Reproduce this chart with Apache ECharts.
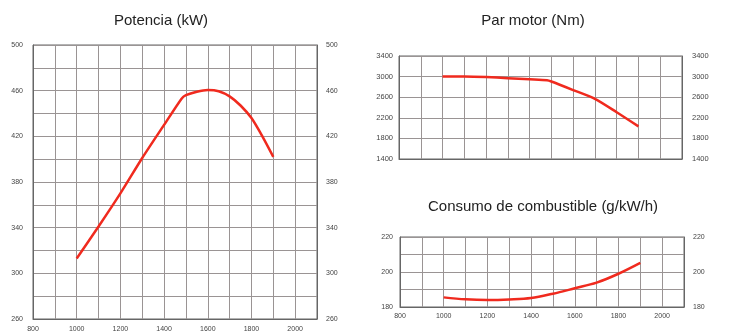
<!DOCTYPE html>
<html>
<head>
<meta charset="utf-8">
<script src="https://cdn.jsdelivr.net/npm/echarts@6/dist/echarts.min.js"></script>
<style>
html,body{margin:0;padding:0;background:#fff;}
#c{width:741px;height:336px;}
</style>
</head>
<body>
<div id="c"></div>
<script>
// ---- data ----
const titles = ['Potencia (kW)', 'Par motor (Nm)', 'Consumo de combustible (g/kW/h)'];
const rpmRange = [800, 2100];
const powerRpm  = [1000, 1100, 1200, 1300, 1400, 1480, 1500, 1550, 1600, 1650, 1700, 1750, 1800, 1850, 1900];
const powerKW   = [313, 341, 370, 401, 430, 453, 456, 459, 460.5, 459.5, 455, 447, 436, 420, 402];
const torqueRpm = [1000, 1100, 1200, 1300, 1400, 1480, 1500, 1600, 1700, 1800, 1900];
const torqueNm  = [3000, 3000, 2990, 2970, 2948, 2930, 2905, 2739, 2568, 2308, 2033];
const fuelRpm   = [1000, 1100, 1200, 1300, 1400, 1500, 1600, 1700, 1800, 1900];
const fuelGkWh  = [185.5, 184.4, 184.0, 184.3, 185.1, 187.6, 190.7, 193.9, 199.0, 205.2];
const powerAxis  = {min: 260, max: 500, step: 20, labelStep: 40};
const torqueAxis = {min: 1400, max: 3400, step: 200, labelStep: 400};
const fuelAxis   = {min: 180, max: 220, step: 10, labelStep: 20};

const zip = (xs, ys) => xs.map((x, i) => [x, ys[i]]);

const FONT = 'Liberation Sans, Arial, sans-serif';
const GRID_COLOR = '#9a9494';
const AXIS_COLOR = '#666';
const RED = '#f02a1e';

const grids = [
  {left: 33, top: 45, width: 284, height: 274},
  {left: 399, top: 56, width: 283, height: 103},
  {left: 400, top: 237, width: 284, height: 70}
];

function xAxisFor(i, showLabels, margin) {
  return {
    type: 'value', gridIndex: i, min: rpmRange[0], max: rpmRange[1], interval: 100,
    axisLine: {show: true, lineStyle: {color: AXIS_COLOR, width: 1}},
    axisTick: {show: false},
    axisLabel: {
      show: showLabels, margin: margin, fontSize: 7, color: '#444', fontFamily: FONT,
      formatter: v => (v % 200 === 0 ? String(v) : '')
    },
    splitLine: {show: true, lineStyle: {color: GRID_COLOR, width: 1}}
  };
}

function yAxisFor(i, ax, pos, fs, margin, gridColors) {
  return {
    type: 'value', gridIndex: i, position: pos, min: ax.min, max: ax.max, interval: ax.step,
    axisLine: {show: true, lineStyle: {color: AXIS_COLOR, width: 1}},
    axisTick: {show: false},
    axisLabel: {
      fontSize: fs, color: '#444', fontFamily: FONT, margin: margin,
      formatter: v => ((v - ax.min) % ax.labelStep === 0 ? String(v) : '')
    },
    splitLine: {show: pos === 'left', lineStyle: {color: gridColors, width: 1}}
  };
}

const chart = echarts.init(document.getElementById('c'), null, {renderer: 'canvas'});

const titleStyle = {fontSize: 15, fontWeight: 'normal', color: '#222', fontFamily: FONT};

chart.setOption({
  backgroundColor: '#fff',
  animation: false,
  title: [
    {text: titles[0], left: 161, top: 13, textAlign: 'center', padding: 0, textStyle: titleStyle},
    {text: titles[1], left: 533, top: 13, textAlign: 'center', padding: 0, textStyle: titleStyle},
    {text: titles[2], left: 543, top: 199, textAlign: 'center', padding: 0, textStyle: titleStyle}
  ],
  grid: grids.map(g => Object.assign({show: true, borderColor: AXIS_COLOR, borderWidth: 1, backgroundColor: '#fff'}, g)),
  xAxis: [
    xAxisFor(0, true, 7),
    xAxisFor(1, false, 6),
    xAxisFor(2, true, 6)
  ],
  yAxis: [
    yAxisFor(0, powerAxis, 'left', 7, 10, GRID_COLOR),
    yAxisFor(0, powerAxis, 'right', 7, 9, GRID_COLOR),
    yAxisFor(1, torqueAxis, 'left', 7.5, 6, [GRID_COLOR, 'rgba(0,0,0,0)']),
    yAxisFor(1, torqueAxis, 'right', 7.5, 10, GRID_COLOR),
    yAxisFor(2, fuelAxis, 'left', 7, 7, GRID_COLOR),
    yAxisFor(2, fuelAxis, 'right', 7, 9, GRID_COLOR)
  ],
  series: [
    {type: 'line', xAxisIndex: 0, yAxisIndex: 0, data: zip(powerRpm, powerKW), smooth: 0.25,
     showSymbol: false, lineStyle: {color: RED, width: 2.5}},
    {type: 'line', xAxisIndex: 1, yAxisIndex: 2, data: zip(torqueRpm, torqueNm), smooth: 0.25,
     showSymbol: false, lineStyle: {color: RED, width: 2.5}},
    {type: 'line', xAxisIndex: 2, yAxisIndex: 4, data: zip(fuelRpm, fuelGkWh), smooth: 0.35,
     showSymbol: false, lineStyle: {color: RED, width: 2.5}}
  ]
});
</script>
</body>
</html>
